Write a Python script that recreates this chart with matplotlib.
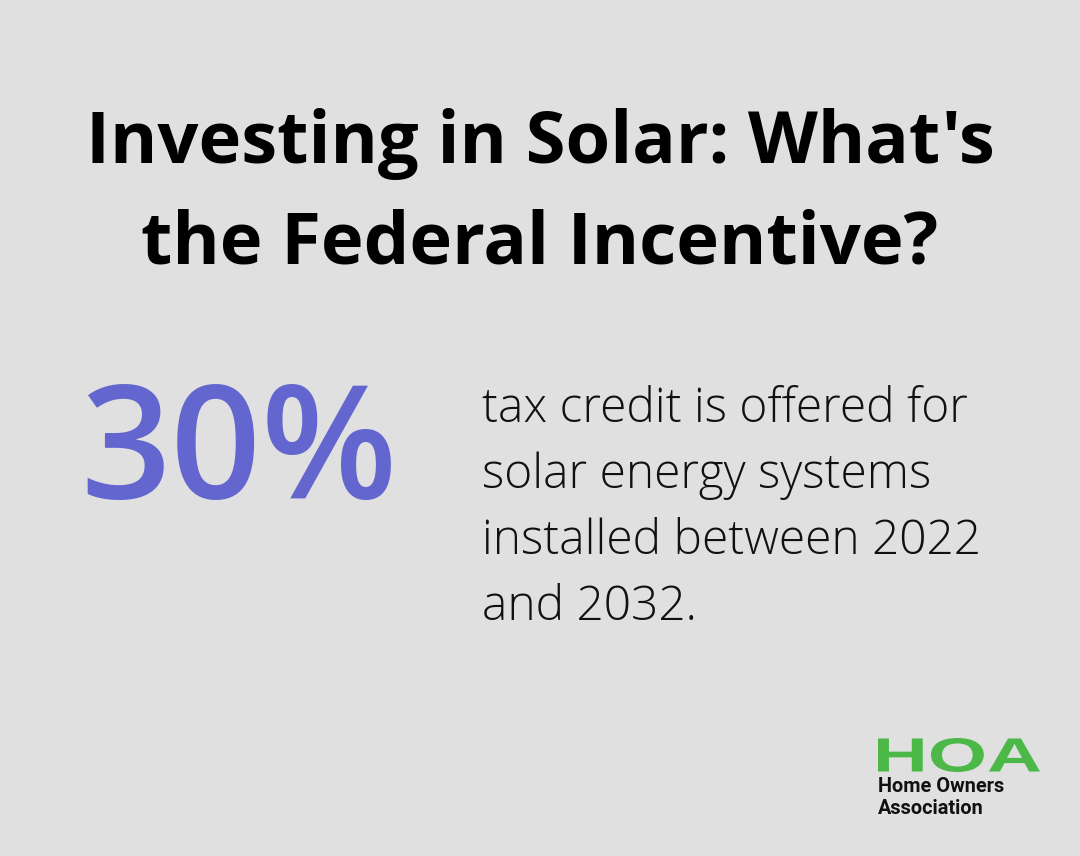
import matplotlib
matplotlib.use("Agg")
import matplotlib.pyplot as plt
from matplotlib.textpath import TextPath
from matplotlib.patches import PathPatch
from matplotlib.font_manager import FontProperties
from matplotlib.transforms import Affine2D

title_lines = ["Investing in Solar: What's", "the Federal Incentive?"]
stat_value = "30%"
body_lines = ["tax credit is offered for", "solar energy systems",
              "installed between 2022", "and 2032."]
logo_title = "HOA"
logo_lines = ["Home Owners", "Association"]

W, H = 1080, 856
fig = plt.figure(figsize=(W/100, H/100), dpi=100)
bg = "#dfe0df"
fig.patch.set_facecolor(bg)
ax = fig.add_axes([0, 0, 1, 1])
ax.set_xlim(0, W); ax.set_ylim(H, 0); ax.axis("off")

for i, t in enumerate(title_lines):
    ax.text(540, 144 + i*100, t, ha="center", va="center", fontsize=52,
            fontweight="bold", family="Open Sans", color="#000000")

ax.text(80, 457, stat_value, ha="left", va="center", fontsize=114,
        family="Open Sans", fontweight="semibold", color="#6366cf")

for i, t in enumerate(body_lines):
    ax.text(482, 410 + i*66, t, ha="left", va="center", fontsize=34.5,
            family="Open Sans", fontweight="light", color="#111111")

# Logo: extended bold "HOA"
fp = FontProperties(family="Liberation Sans", weight="bold")
tp = TextPath((0, 0), logo_title, size=100, prop=fp)
ext = tp.get_extents()
sx = 162 / ext.width
sy = 34 / ext.height
tr = Affine2D().translate(-ext.x0, -ext.y0).scale(sx, -sy).translate(878, 772)
ax.add_patch(PathPatch(tr.transform_path(tp), facecolor="#4cb848", edgecolor="none"))

for i, t in enumerate(logo_lines):
    ax.text(878, 787 + i*22, t, ha="left", va="center", fontsize=14.3,
            family="Roboto", fontweight="bold", color="#111111")

fig.savefig("out.png", dpi=100, facecolor=bg)
